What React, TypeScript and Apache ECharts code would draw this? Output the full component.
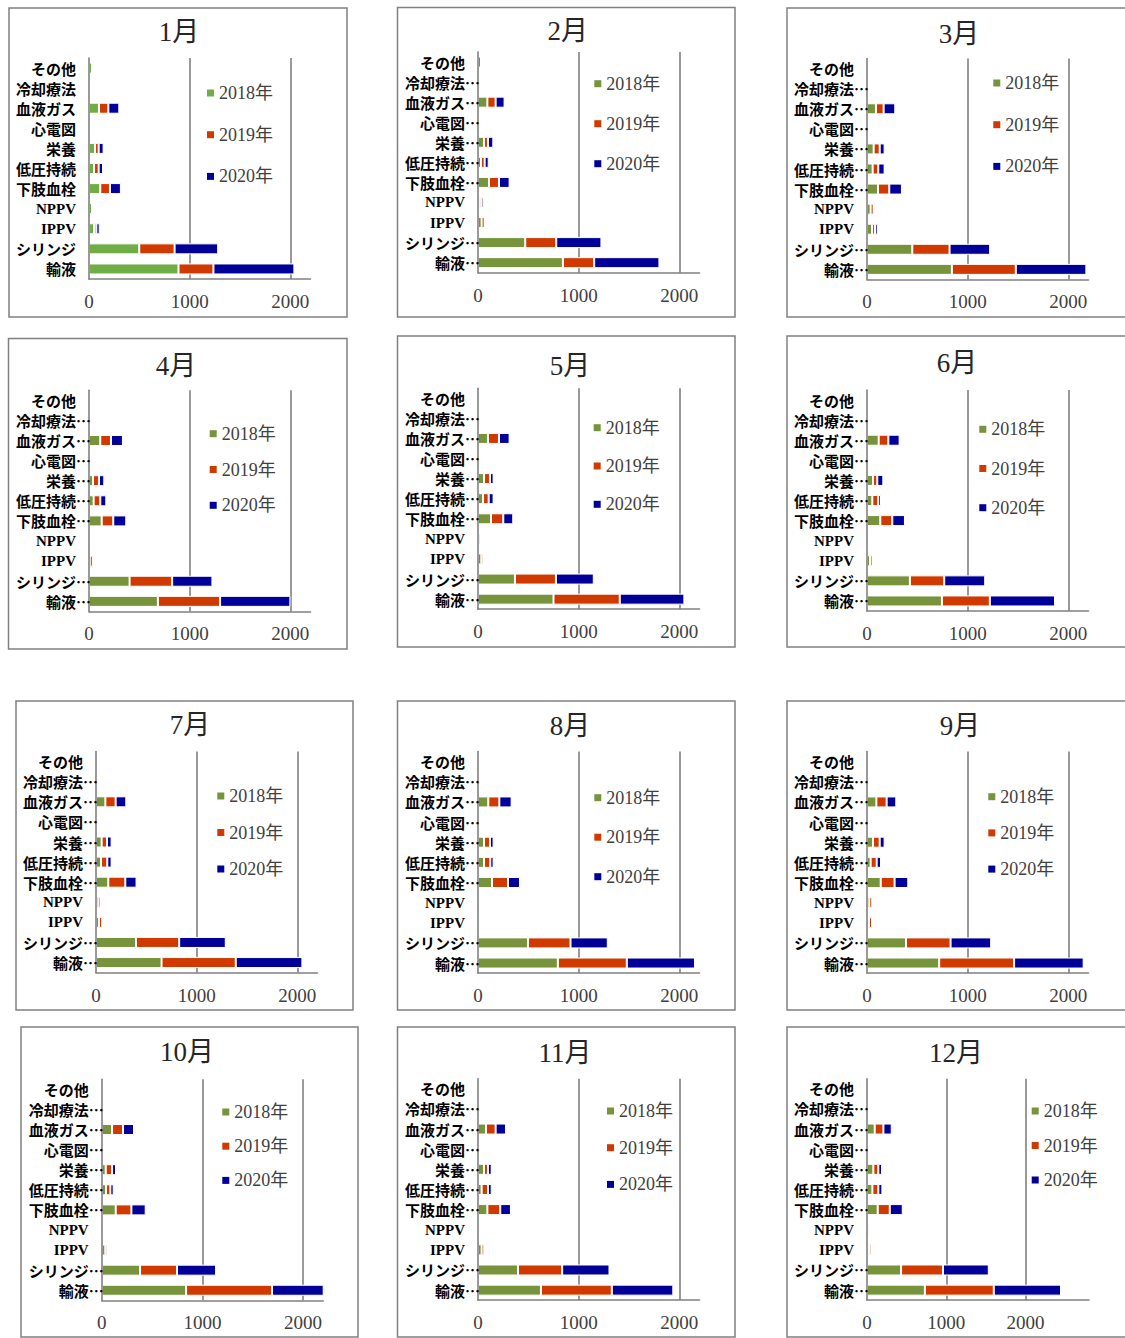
import React, { useEffect, useRef } from 'react';
import * as echarts from 'echarts';

// ---------- data ----------
const months = ['1月', '2月', '3月', '4月', '5月', '6月', '7月', '8月', '9月', '10月', '11月', '12月'];
const categories = ['その他', '冷却療法', '血液ガス', '心電図', '栄養', '低圧持続', '下肢血栓', 'NPPV', 'IPPV', 'シリンジ', '輸液'];
const truncatedCategories = ['冷却療法', '血液ガス', '心電図', '栄養', '低圧持続', '下肢血栓', 'シリンジ', '輸液'];
const years = ['2018年', '2019年', '2020年'];
const axisTicks = [0, 1000, 2000];
const axisMax = [2200, 2200, 2200, 2200, 2200, 2200, 2200, 2200, 2200, 2200, 2200, 2800];

// rows follow `categories`; one row per month
const data2018 = [
  [30, 0, 99, 0, 60, 50, 112, 30, 50, 499, 889],
  [30, 0, 93, 0, 60, 30, 109, 17, 36, 469, 843],
  [13, 0, 89, 0, 66, 56, 109, 36, 50, 450, 843],
  [0, 0, 112, 0, 40, 46, 126, 10, 8, 403, 684],
  [0, 0, 99, 0, 60, 50, 129, 8, 33, 367, 750],
  [0, 0, 116, 0, 60, 53, 132, 10, 30, 426, 744],
  [0, 0, 93, 0, 56, 50, 122, 23, 30, 397, 651],
  [15, 0, 102, 0, 60, 60, 139, 5, 15, 496, 793],
  [20, 0, 93, 0, 60, 36, 136, 23, 20, 387, 717],
  [0, 0, 103, 5, 40, 43, 139, 17, 36, 381, 838],
  [0, 0, 79, 0, 60, 36, 93, 5, 36, 397, 625],
  [0, 0, 97, 0, 80, 68, 135, 10, 25, 430, 730],
];
const data2019 = [
  [20, 0, 93, 0, 36, 46, 96, 10, 23, 351, 347],
  [0, 0, 82, 0, 39, 36, 99, 17, 30, 308, 311],
  [0, 0, 76, 0, 60, 56, 112, 30, 29, 370, 635],
  [0, 0, 106, 0, 59, 66, 115, 10, 30, 423, 618],
  [0, 0, 109, 0, 59, 56, 122, 20, 20, 407, 658],
  [0, 0, 96, 0, 42, 59, 119, 15, 25, 341, 476],
  [0, 0, 102, 0, 53, 62, 169, 23, 33, 429, 737],
  [0, 0, 110, 0, 59, 62, 159, 10, 15, 423, 685],
  [0, 0, 102, 0, 66, 60, 138, 30, 30, 443, 744],
  [0, 0, 109, 0, 63, 43, 156, 0, 20, 367, 854],
  [0, 0, 96, 0, 39, 63, 128, 12, 27, 439, 704],
  [0, 0, 110, 0, 63, 75, 152, 20, 30, 528, 869],
];
const data2020 = [
  [0, 0, 109, 0, 49, 43, 109, 15, 33, 433, 804],
  [0, 0, 89, 0, 53, 40, 106, 21, 0, 449, 648],
  [0, 0, 116, 0, 49, 63, 126, 0, 27, 403, 701],
  [0, 0, 119, 0, 53, 60, 129, 5, 10, 400, 698],
  [0, 0, 106, 0, 36, 49, 99, 0, 0, 376, 642],
  [0, 0, 112, 0, 60, 27, 126, 0, 0, 407, 648],
  [0, 0, 106, 0, 46, 43, 112, 0, 0, 463, 662],
  [0, 0, 122, 0, 36, 33, 119, 0, 0, 370, 677],
  [0, 0, 96, 0, 49, 43, 136, 0, 0, 403, 691],
  [0, 0, 109, 0, 39, 33, 142, 0, 0, 388, 540],
  [0, 0, 103, 0, 37, 37, 106, 0, 0, 470, 611],
  [0, 0, 105, 0, 47, 51, 164, 0, 0, 578, 848],
];
const yearData = [data2018, data2019, data2020];

// ---------- layout & style ----------
type Panel = { box: number[]; title: number[]; grid: number[]; legend: number[] };
const layout: Panel[] = [
  { box: [9, 8, 347, 317], title: [179, 32], grid: [89, 58, 221.5, 221], legend: [207, 84, 23.7] },
  { box: [397.5, 7.5, 735, 317], title: [567.7, 31], grid: [478, 52, 221.5, 220.7], legend: [594.3, 74.7, 22] },
  { box: [787, 8, 1130, 317], title: [959, 33.7], grid: [867, 58.6, 221.5, 220.8], legend: [993.3, 74, 23.7] },
  { box: [8.5, 338.5, 347, 649], title: [176, 366], grid: [89, 390.2, 221.5, 221.2], legend: [209.7, 424.7, 17.8] },
  { box: [397.5, 336, 735, 647], title: [570, 365.7], grid: [478, 388.2, 221.5, 221], legend: [593.7, 418.7, 20.3] },
  { box: [787, 336, 1130, 647], title: [957, 363], grid: [867, 390, 221.5, 221], legend: [979.3, 420.3, 21.2] },
  { box: [16, 701, 353, 1010], title: [190, 725], grid: [96, 751.6, 221.5, 221], legend: [217.3, 787, 18.5] },
  { box: [397.5, 701, 735, 1010], title: [570, 725.7], grid: [478, 751.6, 221.5, 221.5], legend: [594.3, 788.7, 21.5] },
  { box: [787, 701, 1130, 1010], title: [960, 725.7], grid: [867, 751.6, 221.5, 221.5], legend: [988.3, 787.7, 18.2] },
  { box: [21, 1027, 358, 1337], title: [187, 1052.3], grid: [101.7, 1079.3, 221.5, 221], legend: [222.3, 1103, 16.2] },
  { box: [397.5, 1027, 735, 1337], title: [565, 1053.3], grid: [478, 1078.7, 221.5, 221.5], legend: [607, 1102, 18.7] },
  { box: [787, 1027, 1130, 1337], title: [956, 1053.3], grid: [867, 1078.7, 222, 221.5], legend: [1031.7, 1102, 16.5] },
];

const SERIF = "'Liberation Serif', 'Noto Sans CJK JP', serif";
const JP = "'Noto Sans CJK JP', sans-serif";
const LINE = '#808080';
const GREEN_LIGHT = '#70AD47';
const GREEN = '#77933C';
const RED = '#D03A00';
const BLUE = '#000099';
const panelColors = (i: number) => [i === 0 ? GREEN_LIGHT : GREEN, RED, BLUE];

function buildOption() {
  const grid = layout.map((p) => ({
    left: p.grid[0], top: p.grid[1], width: p.grid[2], height: p.grid[3], containLabel: false,
  }));

  const xAxis = layout.map((_, i) => ({
    gridIndex: i,
    type: 'value',
    min: 0,
    max: axisMax[i],
    interval: 1000,
    axisLine: { show: true, lineStyle: { color: LINE, width: 1.6 } },
    axisTick: { show: false },
    axisLabel: {
      margin: 13,
      fontSize: 19,
      color: '#404040',
      fontFamily: SERIF,
      showMaxLabel: false,
      formatter: (v: number) => (axisTicks.includes(v) ? String(v) : ''),
    },
    splitLine: { show: true, showMinLine: false, showMaxLine: false, lineStyle: { color: LINE, width: 1.6 } },
  }));

  const jpStyle = { fontFamily: JP, fontWeight: 'bold', fontSize: 15, lineHeight: 18, color: '#000' };
  const yAxis = layout.map((_, i) => ({
    gridIndex: i,
    type: 'category',
    inverse: true,
    data: categories,
    z: 3,
    axisLine: { show: true, lineStyle: { color: LINE, width: 1.6 } },
    axisTick: { show: false },
    axisLabel: {
      margin: -2,
      interval: 0,
      lineHeight: 18,
      formatter: (v: string) => {
        if (/^[A-Z]+$/.test(v)) return `{l|${v}}`;
        if (i > 0 && truncatedCategories.includes(v)) return `{j|${v}}{e|…}`;
        return `{jp|${v}}`;
      },
      rich: {
        j: { ...jpStyle },
        jp: { ...jpStyle, padding: [0, 15, 0, 0] },
        e: { ...jpStyle },
        l: { fontFamily: "'Liberation Serif', serif", fontWeight: 'bold', fontSize: 15, lineHeight: 18, color: '#000', padding: [0, 15, 0, 0] },
      },
    },
  }));

  const series: any[] = [];
  layout.forEach((_, i) => {
    years.forEach((y, k) => {
      series.push({
        type: 'bar',
        name: y,
        stack: 'p' + i,
        xAxisIndex: i,
        yAxisIndex: i,
        barWidth: 11,
        silent: true,
        data: yearData[k][i],
        itemStyle: { color: panelColors(i)[k], borderColor: '#ffffff', borderWidth: 1 },
      });
    });
  });

  const legend = layout.map((p, i) => ({
    left: p.legend[0],
    top: p.legend[1],
    padding: 0,
    orient: 'vertical',
    itemGap: p.legend[2],
    itemWidth: 7,
    itemHeight: 7,
    icon: 'rect',
    selectedMode: false,
    textStyle: { fontSize: 18, lineHeight: 18, color: '#404040', fontFamily: SERIF },
    data: years.map((y, k) => ({ name: y, itemStyle: { color: panelColors(i)[k], borderWidth: 0 } })),
  }));

  const elements: any[] = [];
  layout.forEach((p, i) => {
    elements.push({
      type: 'rect',
      z: -1,
      shape: { x: p.box[0], y: p.box[1], width: p.box[2] - p.box[0], height: p.box[3] - p.box[1] },
      style: { fill: 'none', stroke: LINE, lineWidth: 1.5 },
    });
    elements.push({
      type: 'text',
      x: p.title[0],
      y: p.title[1],
      style: {
        text: months[i],
        align: 'center',
        verticalAlign: 'middle',
        fontSize: 27,
        fontFamily: SERIF,
        fill: '#262626',
      },
    });
  });

  return {
    animation: false,
    backgroundColor: '#ffffff',
    grid,
    xAxis,
    yAxis,
    legend,
    series,
    graphic: { elements },
  };
}

export default function App() {
  const ref = useRef<HTMLDivElement>(null);
  useEffect(() => {
    if (!ref.current) return;
    const chart = echarts.init(ref.current, null, { renderer: 'svg' });
    chart.setOption(buildOption() as any);
    return () => chart.dispose();
  }, []);
  return (
    <div
      ref={ref}
      style={{ position: 'absolute', left: 0, top: 0, width: 1125, height: 1338, background: '#fff' }}
    />
  );
}
